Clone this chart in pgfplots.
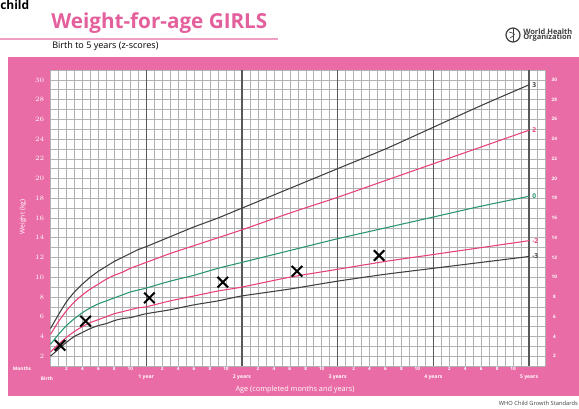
\documentclass[border=0pt]{standalone}
\usepackage{pgfplots}
\usepackage{pgfplotstable}
\pgfplotsset{compat=1.18}
\usepackage{fontspec}
\setmainfont{Open Sans}

\definecolor{whopink}{RGB}{234,108,166}
\definecolor{titlepink}{RGB}{228,96,156}
\definecolor{zpink}{RGB}{232,64,122}
\definecolor{zgreen}{RGB}{40,150,112}
\definecolor{zblack}{RGB}{64,64,64}

% WHO weight-for-age girls, z-score curves (kg)
\pgfplotstableread{
m  s3n  s2n  s0   s2   s3
0  2.0  2.4  3.2  4.2  4.8
1  2.7  3.2  4.2  5.5  6.2
2  3.4  3.9  5.1  6.6  7.5
3  4.0  4.5  5.8  7.5  8.5
4  4.4  5.0  6.4  8.2  9.3
5  4.8  5.4  6.9  8.8  10.0
6  5.1  5.7  7.3  9.3  10.6
7  5.3  6.0  7.6  9.8  11.1
8  5.6  6.3  7.9  10.2 11.6
9  5.8  6.5  8.2  10.5 12.0
10 5.9  6.7  8.5  10.9 12.4
11 6.1  6.9  8.7  11.2 12.8
12 6.3  7.0  8.9  11.5 13.1
15 6.7  7.6  9.6  12.4 14.1
18 7.2  8.1  10.2 13.2 15.1
21 7.6  8.6  10.9 14.0 16.0
24 8.1  9.0  11.5 14.8 17.0
30 8.8  10.0 12.7 16.5 19.0
36 9.6  10.8 13.9 18.1 21.0
42 10.3 11.6 15.0 19.8 23.0
48 10.9 12.3 16.1 21.5 25.2
54 11.5 13.0 17.2 23.2 27.4
60 12.1 13.7 18.2 24.9 29.5
}\who

% child's measurements
\pgfplotstableread{
m    w
1.2  3.1
4.4  5.55
12.4 7.9
21.6 9.5
30.9 10.6
41.2 12.2
}\child

\newcommand{\fs}[1]{\fontsize{#1}{#1}\selectfont}

\begin{document}
\begin{tikzpicture}
\begin{scope}[x=0.75pt,y=-0.75pt]
\path[use as bounding box, clip] (0,0) rectangle (579,409);
\fill[white] (0,0) rectangle (579,409);
\node[anchor=base west, inner sep=0, font=\bfseries\fs{9}] at (0,9.5) {child};
\node[anchor=base west, inner sep=0, text=titlepink, font=\bfseries\fs{15.5}] at (51,29) {Weight-for-age GIRLS};
\draw[titlepink!60, line width=0.8pt] (0,39) -- (278,39);
\node[anchor=base west, inner sep=0, font=\fs{6.8}] at (52,48.5) {Birth to 5 years (z-scores)};
% WHO emblem
\draw[zblack, line width=0.9pt] (513,35) circle (7);
\draw[zblack, line width=0.7pt] (513,28) -- (513,42);
\draw[zblack, line width=0.5pt] (509,32) .. controls (516,34) .. (510,38);
\node[anchor=west, inner sep=0, align=left, text=zblack, font=\bfseries\fs{5.6}] at (523,35) {World Health\\[-1.5pt]Organization};
% pink frame
\fill[whopink] (8,57) rectangle (600,396);
\coordinate (A) at (50.5,366);
\node[text=white, font=\bfseries\fs{3.6}] at (22,369) {Months};
\node[text=white, font=\bfseries\fs{3.6}] at (47,379) {Birth};
\node[text=white, rotate=90, font=\fs{5}] at (23,217) {Weight (kg)};
\node[text=white, font=\fs{5.5}] at (295,390) {Age (completed months and years)};
\node[anchor=east, inner sep=0, text=zblack, font=\fs{4.3}] at (578,403) {WHO Child Growth Standards};
\end{scope}

\begin{axis}[
  at={(A)}, anchor=south west, scale only axis,
  width=370.9pt, height=222pt,
  xmin=0, xmax=62, ymin=1, ymax=31,
  axis background/.style={fill=white},
  axis line style={draw=none},
  tick style={draw=none},
  xtick={2,4,6,8,10,14,16,18,20,22,26,28,30,32,34,38,40,42,44,46,50,52,54,56,58},
  xticklabels={2,4,6,8,10,2,4,6,8,10,2,4,6,8,10,2,4,6,8,10,2,4,6,8,10},
  minor xtick={0,1,...,62},
  ytick={2,4,...,30},
  minor ytick={1,2,...,31},
  grid=both,
  grid style={gray!60, line width=0.35pt},
  major grid style={gray!60, line width=0.35pt},
  xticklabel style={text=white, font=\bfseries\fs{3.5}, inner sep=1pt},
  yticklabel style={text=white, font=\bfseries\fs{3.5}, inner sep=1pt, xshift=-3.5pt},
  extra x ticks={12,24,36,48,60},
  extra x tick labels={1 year,2 years,3 years,4 years,5 years},
  extra x tick style={major grid style={black!65, line width=1pt},
    xticklabel style={yshift=-5.5pt, font=\bfseries\fs{3.8}}},
  clip=false,
]
\addplot[zblack, line width=0.8pt, smooth, tension=0.4] table[x=m, y=s3]  {\who};
\addplot[zpink,  line width=0.8pt, smooth, tension=0.4] table[x=m, y=s2]  {\who};
\addplot[zgreen, line width=0.8pt, smooth, tension=0.4] table[x=m, y=s0]  {\who};
\addplot[zpink,  line width=0.8pt, smooth, tension=0.4] table[x=m, y=s2n] {\who};
\addplot[zblack, line width=0.8pt, smooth, tension=0.4] table[x=m, y=s3n] {\who};
\addplot[only marks, mark=x, mark size=5.6pt, mark options={line width=1.5pt, black}] table[x=m, y=w] {\child};

\node[anchor=west, text=zblack, font=\bfseries\fs{5}, inner sep=1pt] at (axis cs:60.2,29.5) {3};
\node[anchor=west, text=zpink,  font=\bfseries\fs{5}, inner sep=1pt] at (axis cs:60.2,24.9) {2};
\node[anchor=west, text=zgreen, font=\bfseries\fs{5}, inner sep=1pt] at (axis cs:60.2,18.2) {0};
\node[anchor=west, text=zpink,  font=\bfseries\fs{5}, inner sep=1pt] at (axis cs:60.2,13.7) {-2};
\node[anchor=west, text=zblack, font=\bfseries\fs{5}, inner sep=1pt] at (axis cs:60.2,12.1) {-3};
\pgfplotsinvokeforeach{2,4,...,30}{
  \node[text=white, font=\bfseries\fs{3.5}] at ([xshift=7pt]axis cs:62,#1) {#1};
}
\end{axis}
\end{tikzpicture}
\end{document}
